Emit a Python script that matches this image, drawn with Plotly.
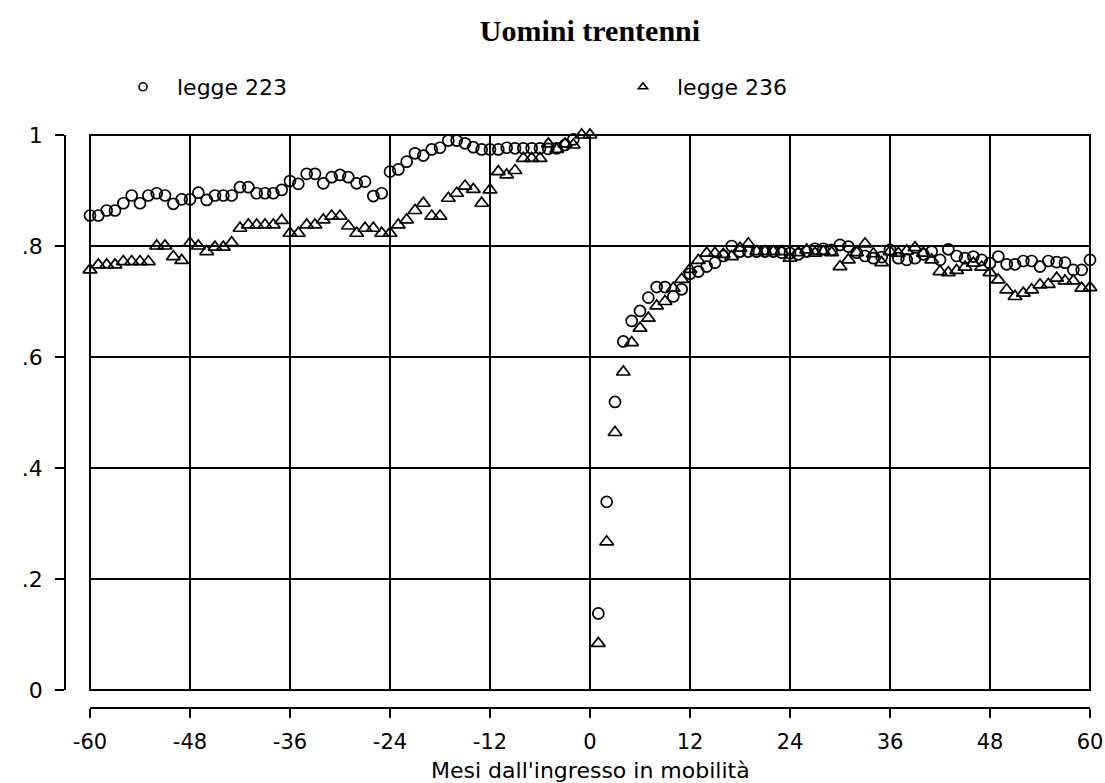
import plotly.graph_objects as go

# ---------------- data ----------------
months = list(range(-60, 61))

legge223 = [
    # -60 .. 0
    0.855, 0.855, 0.864, 0.864, 0.877, 0.891, 0.877, 0.891, 0.895, 0.891,
    0.876, 0.884, 0.884, 0.896, 0.883, 0.891, 0.891, 0.891, 0.906, 0.906,
    0.895, 0.895, 0.895, 0.901, 0.917, 0.912, 0.930, 0.930, 0.913, 0.924,
    0.928, 0.924, 0.913, 0.916, 0.890, 0.895, 0.934, 0.938, 0.952, 0.967,
    0.963, 0.974, 0.977, 0.990, 0.990, 0.985, 0.978, 0.974, 0.974, 0.974,
    0.977, 0.976, 0.976, 0.976, 0.976, 0.975, 0.976, 0.982, 0.992, 1.003,
    1.003,
    # 1 .. 60
    0.138, 0.339, 0.519, 0.628, 0.665, 0.683, 0.707, 0.726, 0.726, 0.709,
    0.722, 0.750, 0.754, 0.763, 0.770, 0.782, 0.800, 0.790, 0.790, 0.790,
    0.790, 0.790, 0.788, 0.787, 0.785, 0.790, 0.795, 0.795, 0.793, 0.802,
    0.799, 0.788, 0.782, 0.778, 0.780, 0.793, 0.778, 0.775, 0.778, 0.785,
    0.790, 0.775, 0.794, 0.782, 0.778, 0.781, 0.775, 0.769, 0.781, 0.767,
    0.767, 0.773, 0.773, 0.763, 0.773, 0.771, 0.770, 0.757, 0.757, 0.775,
]

legge236 = [
    # -60 .. 0
    0.757, 0.766, 0.766, 0.766, 0.772, 0.772, 0.772, 0.772, 0.800, 0.800,
    0.781, 0.774, 0.805, 0.800, 0.790, 0.798, 0.798, 0.806, 0.832, 0.838,
    0.838, 0.838, 0.838, 0.846, 0.823, 0.823, 0.838, 0.838, 0.847, 0.854,
    0.854, 0.836, 0.823, 0.832, 0.832, 0.823, 0.823, 0.838, 0.847, 0.864,
    0.877, 0.854, 0.854, 0.886, 0.895, 0.908, 0.902, 0.877, 0.901, 0.934,
    0.928, 0.936, 0.958, 0.958, 0.958, 0.984, 0.974, 0.984, 0.982, 1.000,
    1.000,
    # 1 .. 60
    0.084, 0.267, 0.464, 0.573, 0.626, 0.652, 0.670, 0.692, 0.700, 0.724,
    0.740, 0.758, 0.774, 0.787, 0.787, 0.785, 0.781, 0.796, 0.804, 0.790,
    0.790, 0.790, 0.790, 0.778, 0.788, 0.793, 0.787, 0.790, 0.788, 0.763,
    0.775, 0.788, 0.804, 0.786, 0.770, 0.790, 0.787, 0.791, 0.797, 0.787,
    0.775, 0.754, 0.752, 0.756, 0.762, 0.769, 0.762, 0.752, 0.739, 0.721,
    0.709, 0.715, 0.721, 0.730, 0.731, 0.742, 0.737, 0.737, 0.724, 0.725,
]

x_tickvals = [-60, -48, -36, -24, -12, 0, 12, 24, 36, 48, 60]
x_ticktext = ["-60", "-48", "-36", "-24", "-12", "0", "12", "24", "36", "48", "60"]
y_tickvals = [0, 0.2, 0.4, 0.6, 0.8, 1.0]
y_ticktext = ["0", ".2", ".4", ".6", ".8", "1"]

series_names = ["legge 223", "legge 236"]

# ---------------- layout geometry ----------------
W, H = 1105, 783
ML, MR, MT, MB = 65, 15, 135, 75
PW, PH = W - ML - MR, H - MT - MB
xdom0 = 25 / PW
ydom0 = 18 / PH

SANS = "DejaVu Sans"
FS = 22
NB = "\u00a0\u00a0"
fig = go.Figure()

fig.add_trace(go.Scatter(
    x=months, y=legge223, mode="markers", showlegend=False, cliponaxis=False,
    marker=dict(symbol="circle-open", size=11, color="black", line=dict(width=1.7, color="black")),
    hoverinfo="x+y", name=series_names[0]))
fig.add_trace(go.Scatter(
    x=months, y=legge236, mode="markers", showlegend=False, cliponaxis=False,
    marker=dict(symbol="triangle-up-open", size=12, color="black", line=dict(width=1.7, color="black")),
    hoverinfo="x+y", name=series_names[1]))

# legend entries (smaller symbols as in the reference legend)
fig.add_trace(go.Scatter(
    x=[None], y=[None], mode="markers", name=NB + series_names[0], legendwidth=455,
    marker=dict(symbol="circle-open", size=8, color="black", line=dict(width=1.6, color="black"))))
fig.add_trace(go.Scatter(
    x=[None], y=[None], mode="markers", name=NB + series_names[1], legendwidth=140,
    marker=dict(symbol="triangle-up-open", size=8, color="black", line=dict(width=1.6, color="black"))))

# empty trace carrying the offset axes
fig.add_trace(go.Scatter(x=[None], y=[None], xaxis="x2", yaxis="y2",
                         showlegend=False, hoverinfo="skip"))

grid_common = dict(showgrid=True, gridcolor="black", gridwidth=2, zeroline=False,
                   showline=False, ticks="", showticklabels=False, automargin=False)

fig.update_layout(
    width=W, height=H, autosize=False,
    margin=dict(l=ML, r=MR, t=MT, b=MB, pad=0, autoexpand=False),
    paper_bgcolor="white", plot_bgcolor="white",
    font=dict(family=SANS, size=FS, color="black"),
    title=dict(text="<b>Uomini trentenni</b>", xref="container", yref="container",
               x=590 / W, xanchor="center", y=1 - 30 / H, yanchor="middle",
               font=dict(family="Liberation Serif", size=30, color="black")),
    xaxis=dict(domain=[xdom0, 1], range=[-60, 60], tickvals=x_tickvals, **grid_common),
    yaxis=dict(domain=[ydom0, 1], range=[0, 1], tickvals=y_tickvals, **grid_common),
    xaxis2=dict(overlaying="x", anchor="free", position=0, range=[-60, 60], automargin=False,
                tickvals=x_tickvals, ticktext=x_ticktext, showgrid=False, zeroline=False,
                showline=True, linecolor="black", linewidth=1.8,
                ticks="outside", ticklen=9, tickwidth=1.8, tickcolor="black",
                ticklabelstandoff=6, tickfont=dict(family=SANS, size=21, color="black")),
    yaxis2=dict(overlaying="y", anchor="free", position=0, range=[0, 1], automargin=False,
                tickvals=y_tickvals, ticktext=y_ticktext, showgrid=False, zeroline=False,
                showline=True, linecolor="black", linewidth=1.8,
                ticks="outside", ticklen=9, tickwidth=1.8, tickcolor="black",
                ticklabelstandoff=8, tickfont=dict(family=SANS, size=FS, color="black")),
    legend=dict(orientation="h", x=(123 - ML) / PW, xanchor="left",
                y=1 + (MT - 87) / PH, yanchor="middle",
                bgcolor="rgba(0,0,0,0)", font=dict(family=SANS, size=FS, color="black")),
    shapes=[dict(type="rect", xref="x domain", yref="y domain", x0=0, x1=1, y0=0, y1=1,
                 line=dict(color="black", width=2), layer="below")],
    annotations=[dict(text="Mesi dall'ingresso in mobilità", xref="x domain", x=0.5,
                      yref="paper", y=-(770 - (H - MB)) / PH, xanchor="center", yanchor="middle",
                      showarrow=False, font=dict(family=SANS, size=22, color="black"))],
)

fig.write_html("out.html")
